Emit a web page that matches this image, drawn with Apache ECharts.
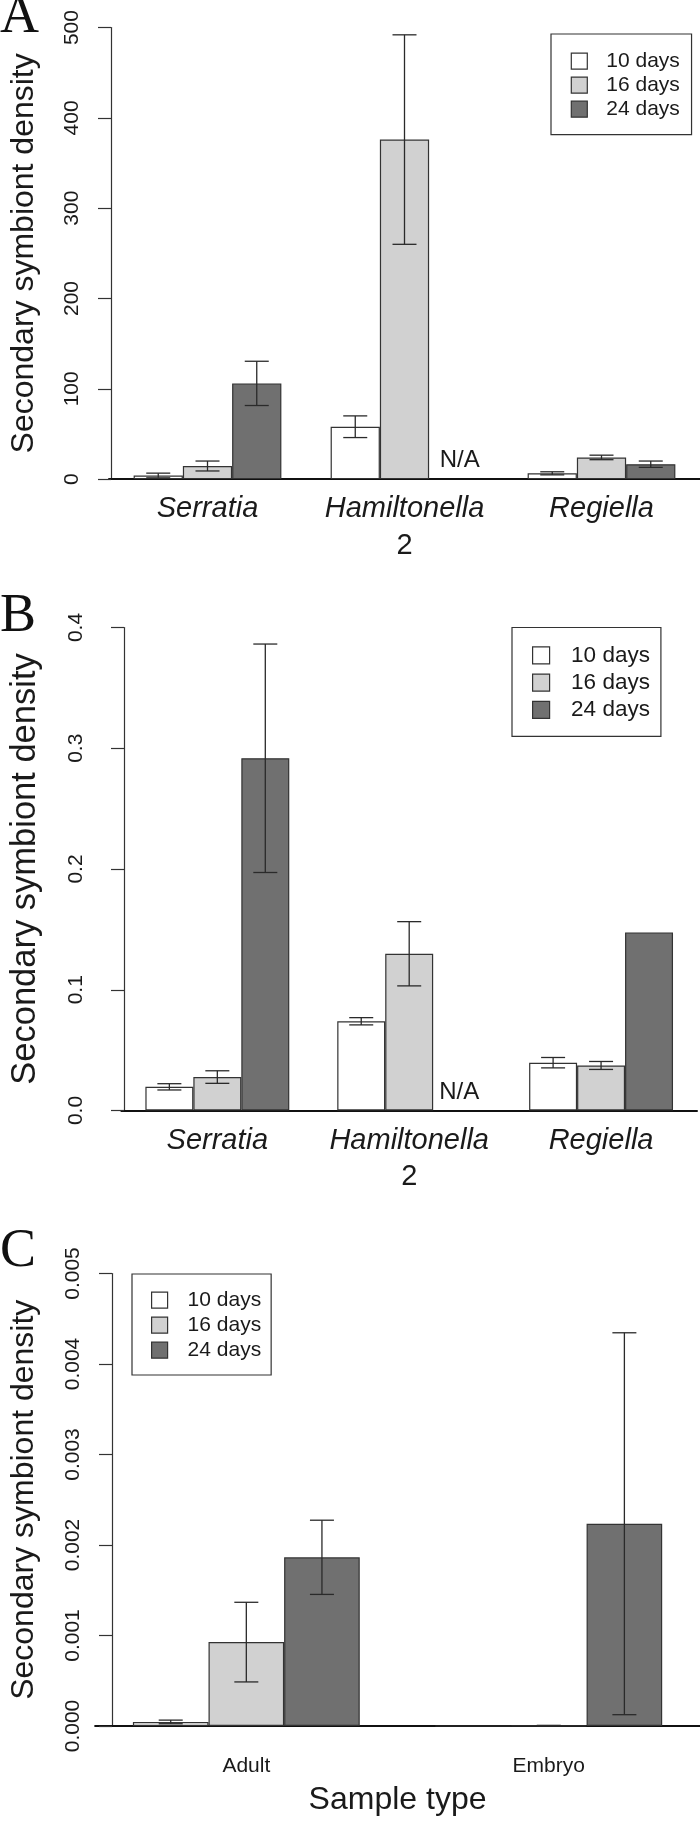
<!DOCTYPE html>
<html><head><meta charset="utf-8">
<script src="https://cdn.jsdelivr.net/npm/echarts@6/dist/echarts.min.js"></script>
<style>html,body{margin:0;padding:0;background:#fff}#c{width:700px;height:1821px}</style>
</head><body><div id="c"></div>
<script>
// ---------- data ----------
const seriesNames = ['10 days', '16 days', '24 days'];

const catsA = ['Serratia', 'Hamiltonella\n2', 'Regiella'];
const meanA10 = [4, 58, 6.4];
const meanA16 = [14.5, 376, 24];
const meanA24 = [106, null, 16.5];
const errA10 = [2.6, 12, 1.7];
const errA16 = [5.5, 116, 2.5];
const errA24 = [24.5, null, 3.5];
const ticksA = [0, 100, 200, 300, 400, 500];

const catsB = ['Serratia', 'Hamiltonella\n2', 'Regiella'];
const meanB10 = [0.0196, 0.0739, 0.0396];
const meanB16 = [0.0277, 0.1298, 0.0373];
const meanB24 = [0.2917, null, 0.1475];
const errB10 = [0.0026, 0.003, 0.0043];
const errB16 = [0.0052, 0.0266, 0.0033];
const errB24 = [0.0946, null, 0];
const ticksB = [0, 0.1, 0.2, 0.3, 0.4];

const catsC = ['Adult', 'Embryo'];
const meanC10 = [0.000045, 0];
const meanC16 = [0.000927, 0.000004];
const meanC24 = [0.001864, 0.002235];
const errC10 = [0.00002, 0];
const errC16 = [0.00044, 0.000003];
const errC24 = [0.00041, 0.00211];
const ticksC = [0, 0.001, 0.002, 0.003, 0.004, 0.005];

const naLabel = 'N/A';
const yTitle = 'Secondary symbiont density';
const xTitleC = 'Sample type';
const panelLetters = ['A', 'B', 'C'];

// ---------- styling / layout ----------
const FONT = '"Liberation Sans", Arial, Helvetica, sans-serif';
const SERIF = '"Liberation Serif", "Times New Roman", serif';
const fills = ['#ffffff', '#d1d1d1', '#707070'];
const ink = '#1a1a1a';

const panels = [
  { cats: catsA, means: [meanA10, meanA16, meanA24], errs: [errA10, errA16, errA24], ticks: ticksA, dec: 0,
    grid: { left: 107.3, top: 27.6, width: 595.3, height: 451.5 }, yOffset: -2, labelMargin: 28, nameGap: 71, titleSize: 32,
    catItalic: true, catSize: 29, catMargin: 12, naOffset: [6, 0], naDist: 7,
    legend: { left: 551, top: 34, icon: 16, gap: 3, pad: [16.7, 11.7, 15, 19.7], fs: 21, tpad: 14 } },
  { cats: catsB, means: [meanB10, meanB16, meanB24], errs: [errB10, errB16, errB24], ticks: ticksB, dec: 1,
    grid: { left: 116.9, top: 627.5, width: 580.1, height: 483 }, yOffset: -2.6, labelMargin: 37.5, nameGap: 81, titleSize: 34.5,
    catItalic: true, catSize: 29, catMargin: 12, naOffset: [2, 0], naDist: 6,
    legend: { left: 512, top: 627.5, icon: 17, gap: 4.2, pad: [16.4, 11, 15, 20], fs: 22.5, tpad: 16.5 } },
  { cats: catsC, means: [meanC10, meanC16, meanC24], errs: [errC10, errC16, errC24], ticks: ticksC, dec: 3,
    grid: { left: 93.1, top: 1273.5, width: 623.4, height: 452.5 }, yOffset: -16.9, labelMargin: 28, nameGap: 72, titleSize: 32,
    catItalic: false, catSize: 21, catMargin: 30, xName: xTitleC,
    legend: { left: 132, top: 1274, icon: 16, gap: 4, pad: [15.7, 10, 14.3, 19], fs: 21, tpad: 15 } }
];

const grids = [], xAxes = [], yAxes = [], series = [], legends = [];

panels.forEach((p, pi) => {
  grids.push(Object.assign({ containLabel: false }, p.grid));
  xAxes.push({
    type: 'category', gridIndex: pi, data: p.cats,
    axisLine: { show: true, lineStyle: { color: '#111', width: 2 } },
    axisTick: { show: false },
    axisLabel: {
      margin: p.catMargin, color: ink, fontFamily: FONT, fontSize: p.catSize, interval: 0,
      formatter: v => v.split('\n').map((s, i) => (i === 0 && p.catItalic ? '{it|' : '{n|') + s + '}').join('\n'),
      rich: {
        it: { fontStyle: 'italic', fontSize: p.catSize, fontFamily: FONT, color: ink, lineHeight: 36.5 },
        n: { fontSize: p.catSize, fontFamily: FONT, color: ink, lineHeight: p.catItalic ? 36.5 : p.catSize }
      }
    },
    name: p.xName || '', nameLocation: 'middle', nameGap: 58,
    nameTextStyle: { fontSize: 32, fontFamily: FONT, color: ink }
  });
  yAxes.push({
    type: 'value', gridIndex: pi, offset: p.yOffset,
    min: p.ticks[0], max: p.ticks[p.ticks.length - 1], interval: p.ticks[1] - p.ticks[0],
    axisLine: { show: true, lineStyle: { color: '#333', width: 1.2 } },
    axisTick: { show: true, inside: false, length: 13, lineStyle: { color: '#333', width: 1.2 } },
    splitLine: { show: false },
    axisLabel: { rotate: 90, margin: p.labelMargin, color: ink, fontFamily: FONT, fontSize: 21,
      formatter: v => v.toFixed(p.dec) },
    name: yTitle, nameLocation: 'middle', nameRotate: 90, nameGap: p.nameGap,
    nameTextStyle: { fontSize: p.titleSize, fontFamily: FONT, color: ink }
  });
  for (let d = 0; d < 3; d++) {
    const data = p.means[d].map(v => v === null
      ? { value: 0, itemStyle: { color: 'rgba(0,0,0,0)', borderWidth: 0 },
          label: { show: true, formatter: naLabel, position: 'top', distance: p.naDist, offset: p.naOffset,
                   fontSize: 24, fontFamily: FONT, color: ink } }
      : v);
    series.push({
      type: 'bar', name: seriesNames[d], xAxisIndex: pi, yAxisIndex: pi, data,
      barGap: '0%', barCategoryGap: '25%', animation: false,
      itemStyle: { color: fills[d], borderColor: '#333', borderWidth: 1.2 }
    });
    const ebData = [];
    p.means[d].forEach((m, i) => { const e = p.errs[d][i]; if (m !== null && e) ebData.push([i, m, e]); });
    series.push({
      type: 'custom', name: 'err' + pi + d, xAxisIndex: pi, yAxisIndex: pi, data: ebData, z: 5, silent: true, animation: false,
      renderItem: (params, api) => {
        const ci = api.value(0), m = api.value(1), e = api.value(2);
        const c = api.coord([ci, m]);
        const bw = api.size([1, 0])[0] * 0.75 / 3;
        const x = c[0] + (d - 1) * bw;
        const yT = api.coord([ci, m + e])[1];
        const yB = api.coord([ci, m - e])[1];
        const hw = 12;
        const st = { stroke: '#2a2a2a', lineWidth: 1.3 };
        return { type: 'group', children: [
          { type: 'line', shape: { x1: x, y1: yT, x2: x, y2: yB }, style: st },
          { type: 'line', shape: { x1: x - hw, y1: yT, x2: x + hw, y2: yT }, style: st },
          { type: 'line', shape: { x1: x - hw, y1: yB, x2: x + hw, y2: yB }, style: st }
        ] };
      }
    });
  }
  const L = p.legend;
  legends.push({
    data: seriesNames, orient: 'vertical', left: L.left, top: L.top, icon: 'rect',
    itemWidth: L.icon, itemHeight: L.icon, itemGap: L.gap, padding: L.pad,
    borderColor: '#333', borderWidth: 1.2, selectedMode: false,
    itemStyle: { borderColor: '#333', borderWidth: 1.2 },
    textStyle: { fontSize: L.fs, fontFamily: FONT, color: ink, padding: [0, 0, 0, L.tpad] }
  });
});

const letterTops = [-9, 590, 1225];
const graphic = panelLetters.map((t, i) => ({
  type: 'text', left: 0, top: letterTops[i],
  style: { text: t, font: '54px ' + SERIF, fill: '#111' }
}));

const chart = echarts.init(document.getElementById('c'), null, { renderer: 'canvas' });
chart.setOption({
  animation: false, backgroundColor: '#ffffff',
  grid: grids, xAxis: xAxes, yAxis: yAxes, series, legend: legends, graphic
});
</script></body></html>
